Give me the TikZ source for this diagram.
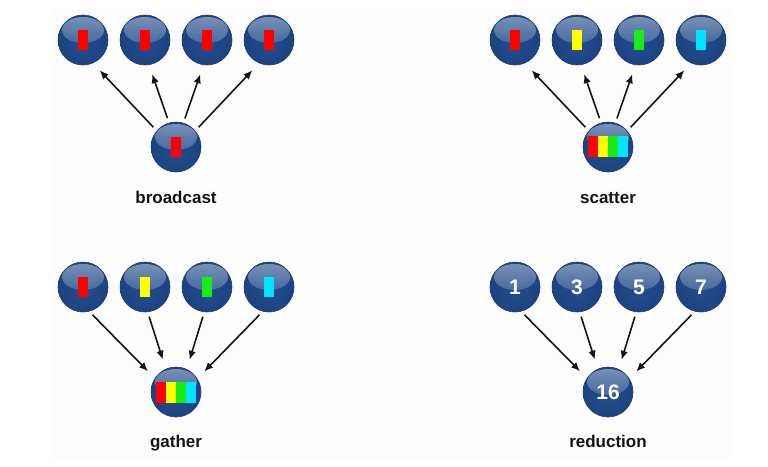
\documentclass[tikz,border=0pt]{standalone}
\usepackage{fontspec}
\setmainfont{Liberation Sans}
\usetikzlibrary{arrows.meta,fadings}
\definecolor{bgc}{RGB}{252,253,252}
\definecolor{ballin}{RGB}{35,76,140}
\definecolor{ballmid}{RGB}{28,66,127}
\definecolor{ballout}{RGB}{15,44,95}
\definecolor{rimc}{RGB}{30,60,112}
\definecolor{hilite}{RGB}{200,215,235}
\definecolor{barred}{RGB}{255,0,0}
\definecolor{baryel}{RGB}{255,255,0}
\definecolor{bargrn}{RGB}{24,235,24}
\definecolor{barcyn}{RGB}{0,228,255}
\definecolor{labc}{RGB}{20,20,20}
\pgfdeclareradialshading{ballshade}{\pgfpoint{0bp}{-6bp}}{color(0bp)=(ballin); color(28bp)=(ballmid); color(46bp)=(ballout); color(50bp)=(ballout)}
\tikzset{
  ball/.style={circle, minimum size=50pt, inner sep=0pt, outer sep=0pt,
    shading=ballshade, draw=rimc, line width=0.6pt, text=white,
    font=\bfseries\fontsize{21}{21}\selectfont,
    path picture={\fill[hilite, path fading=south, fill opacity=0.55]
      ([yshift=10pt]path picture bounding box.center) ellipse (21pt and 13pt);}},
  arr/.style={draw=labc, line width=1.6pt, -{Latex[length=9pt,width=7.5pt]},
    shorten <=5pt, shorten >=10pt},
  lab/.style={anchor=base, text=labc, font=\bfseries\fontsize{17}{17}\selectfont}
}
\begin{document}
\begin{tikzpicture}[x=1pt,y=-1pt]
\useasboundingbox (0,0) rectangle (768,466);
\fill[bgc] (52,10) rectangle (731,459);

% ---------- broadcast ----------
\node[ball] (bt1) at (83,40) {};
\node[ball] (bt2) at (145,40) {};
\node[ball] (bt3) at (207,40) {};
\node[ball] (bt4) at (269,40) {};
\node[ball] (bb) at (176,147) {};
\foreach \n in {bt1,bt2,bt3,bt4,bb}{\fill[barred] (\n) ++(-5,-10) rectangle ++(10,20);}
\draw[arr] (bb.140) -- (bt1.-67);
\draw[arr] (bb.106.5) -- (bt2.-81.5);
\draw[arr] (bb.73.5) -- (bt3.-98.5);
\draw[arr] (bb.40) -- (bt4.-113);
\node[lab] (lb) at (176,203) {broadcast};

% ---------- scatter ----------
\node[ball] (st1) at (515,40) {};
\node[ball] (st2) at (577,40) {};
\node[ball] (st3) at (639,40) {};
\node[ball] (st4) at (701,40) {};
\node[ball] (sb) at (608,147) {};
\fill[barred] (st1) ++(-5,-10) rectangle ++(10,20);
\fill[baryel] (st2) ++(-5,-10) rectangle ++(10,20);
\fill[bargrn] (st3) ++(-5,-10) rectangle ++(10,20);
\fill[barcyn] (st4) ++(-5,-10) rectangle ++(10,20);
\fill[barred] (sb) ++(-20,-11) rectangle ++(10,21);
\fill[baryel] (sb) ++(-10,-11) rectangle ++(10,21);
\fill[bargrn] (sb) ++(0,-11) rectangle ++(10,21);
\fill[barcyn] (sb) ++(10,-11) rectangle ++(10,21);
\draw[arr] (sb.140) -- (st1.-67);
\draw[arr] (sb.106.5) -- (st2.-81.5);
\draw[arr] (sb.73.5) -- (st3.-98.5);
\draw[arr] (sb.40) -- (st4.-113);
\node[lab] (ls) at (608,203) {scatter};

% ---------- gather ----------
\node[ball] (gt1) at (83,287) {};
\node[ball] (gt2) at (145,287) {};
\node[ball] (gt3) at (207,287) {};
\node[ball] (gt4) at (269,287) {};
\node[ball] (gb) at (176,392) {};
\fill[barred] (gt1) ++(-5,-10) rectangle ++(10,20);
\fill[baryel] (gt2) ++(-5,-10) rectangle ++(10,20);
\fill[bargrn] (gt3) ++(-5,-10) rectangle ++(10,20);
\fill[barcyn] (gt4) ++(-5,-10) rectangle ++(10,20);
\fill[barred] (gb) ++(-20,-10) rectangle ++(10,21);
\fill[baryel] (gb) ++(-10,-10) rectangle ++(10,21);
\fill[bargrn] (gb) ++(0,-10) rectangle ++(10,21);
\fill[barcyn] (gb) ++(10,-10) rectangle ++(10,21);
\draw[arr] (gt1.-76) -- (gb.147.5);
\draw[arr] (gt2.-84) -- (gb.114.5);
\draw[arr] (gt3.-96) -- (gb.65.5);
\draw[arr] (gt4.-104) -- (gb.32.5);
\node[lab] (lg) at (176,447) {gather};

% ---------- reduction ----------
\node[ball] (rt1) at (515,287) {1};
\node[ball] (rt2) at (577,287) {3};
\node[ball] (rt3) at (639,287) {5};
\node[ball] (rt4) at (701,287) {7};
\node[ball] (rb) at (608,392) {16};
\draw[arr] (rt1.-76) -- (rb.147.5);
\draw[arr] (rt2.-84) -- (rb.114.5);
\draw[arr] (rt3.-96) -- (rb.65.5);
\draw[arr] (rt4.-104) -- (rb.32.5);
\node[lab] (lr) at (608,447) {reduction};
\end{tikzpicture}
\end{document}
